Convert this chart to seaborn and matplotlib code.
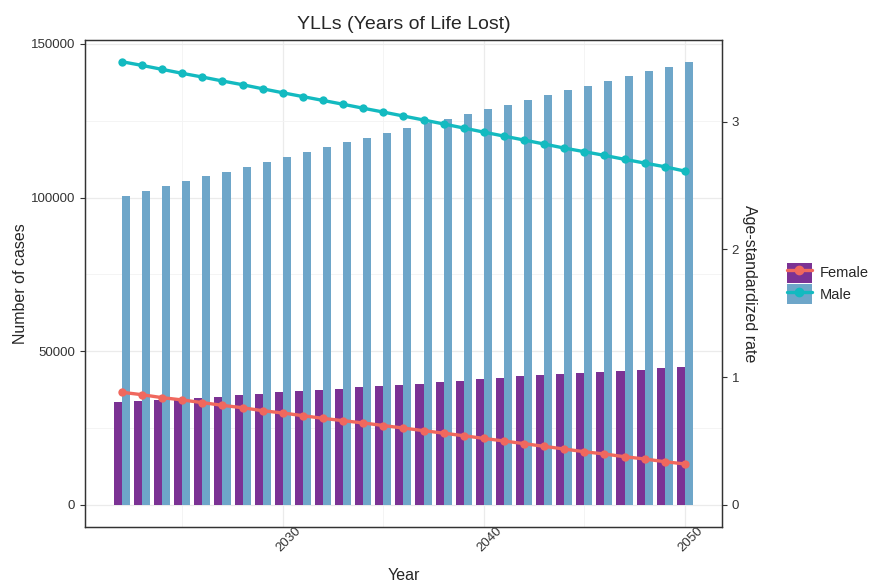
# plot.py
# YLLs projection: cases (bars, left axis) + age-standardized rate (lines, right axis)

import pandas as pd
import seaborn as sns
import matplotlib.pyplot as plt
from matplotlib.patches import Patch
from matplotlib.lines import Line2D
from matplotlib.legend_handler import HandlerTuple
from matplotlib.ticker import MultipleLocator
from matplotlib.transforms import ScaledTranslation

# Data
years = list(range(2022, 2051))

female_cases = [33500, 33830, 34160, 34480, 34810, 35240, 35790, 36220, 36650, 36980,
                37400, 37840, 38280, 38610, 39000, 39450, 39900, 40450, 40990, 41420,
                41970, 42290, 42720, 43040, 43370, 43490, 43920, 44470, 44800]
male_cases = [100650, 102150, 103780, 105400, 106930, 108430, 110060, 111480, 113110, 114850,
              116400, 118000, 119500, 121000, 122700, 124300, 125700, 127300, 128800, 130120,
              131750, 133280, 134900, 136310, 138040, 139560, 141080, 142590, 144210]

female_rate = [0.882, 0.863, 0.840, 0.822, 0.801, 0.780, 0.761, 0.738, 0.720, 0.699,
               0.678, 0.660, 0.642, 0.622, 0.602, 0.582, 0.562, 0.542, 0.521, 0.501,
               0.480, 0.459, 0.438, 0.417, 0.399, 0.378, 0.360, 0.339, 0.321]
male_rate = [3.469, 3.440, 3.409, 3.378, 3.349, 3.318, 3.289, 3.257, 3.226, 3.196,
             3.166, 3.136, 3.105, 3.075, 3.044, 3.013, 2.982, 2.950, 2.918, 2.887,
             2.856, 2.825, 2.793, 2.765, 2.736, 2.705, 2.676, 2.647, 2.613]

sexes = ["Female", "Male"]
bar_colors = {"Female": "#7B3294", "Male": "#6EA6C9"}
line_colors = {"Female": "#F0685E", "Male": "#13BAC0"}

# Build long tables for seaborn
cases_df = pd.DataFrame({
    "year": years * 2,
    "cases": female_cases + male_cases,
    "sex": ["Female"] * len(years) + ["Male"] * len(years),
})
rate_df = pd.DataFrame({
    "year": years * 2,
    "rate": female_rate + male_rate,
    "sex": ["Female"] * len(years) + ["Male"] * len(years),
})

sns.set_style("white")
plt.rcParams["font.family"] = ["Liberation Sans", "DejaVu Sans"]

fig = plt.figure(figsize=(8.76, 5.87), dpi=100)
ax = fig.add_axes([0.097, 0.102, 0.727, 0.830])

# Bars for number of cases
sns.barplot(data=cases_df, x="year", y="cases", hue="sex", hue_order=sexes,
            palette=bar_colors, native_scale=True, width=0.8, saturation=1,
            linewidth=0, legend=False, ax=ax)

# Secondary axis for the rate, scaled like ggplot's sec_axis
scale = max(male_cases) / max(male_rate)
ymin, ymax = -7200, 151300
ax.set_ylim(ymin, ymax)
ax.set_xlim(2020.16, 2051.84)

ax2 = ax.twinx()
ax2.set_ylim(ymin / scale, ymax / scale)
sns.lineplot(data=rate_df, x="year", y="rate", hue="sex", hue_order=sexes,
             palette=line_colors, marker="o", markersize=6, markeredgewidth=0,
             linewidth=2.4, legend=False, ax=ax2)

# Grid like theme_bw
ax.set_axisbelow(True)
ax.xaxis.set_major_locator(MultipleLocator(10))
ax.xaxis.set_minor_locator(MultipleLocator(5))
ax.yaxis.set_major_locator(MultipleLocator(50000))
ax.yaxis.set_minor_locator(MultipleLocator(25000))
ax.grid(which="major", color="#EBEBEB", linewidth=0.9)
ax.grid(which="minor", color="#F3F3F3", linewidth=0.6)
ax.tick_params(which="minor", length=0)
ax2.yaxis.set_major_locator(MultipleLocator(1))

for a in (ax, ax2):
    for s in a.spines.values():
        s.set_color("#333333")
        s.set_linewidth(0.9)
    a.tick_params(which="major", length=3.5, width=0.8, color="#333333",
                  labelsize=9.5, labelcolor="#333333")

ax.set_xticks([2030, 2040, 2050])
ax.tick_params(axis="x", pad=-2)
# nudge the rotated year labels up/right like the ggplot output
shift = ScaledTranslation(4 / 72, 3 / 72, fig.dpi_scale_trans)
for lbl in ax.get_xticklabels():
    lbl.set_rotation(45)
    lbl.set_ha("center")
    lbl.set_va("top")
    lbl.set_transform(lbl.get_transform() + shift)
ax.set_yticklabels([f"{int(v)}" for v in ax.get_yticks()])

ax.set_xlabel("Year", fontsize=11.5, labelpad=10)
ax.set_ylabel("Number of cases", fontsize=11.5, labelpad=2)
ax2.set_ylabel("Age-standardized rate", fontsize=11.5, rotation=270, labelpad=13)
ax.set_title("YLLs (Years of Life Lost)", fontsize=14, pad=8)

# Legend: bar colour square with line + dot across
handles = [(Patch(facecolor=bar_colors[s], edgecolor="none"),
            Line2D([], [], color=line_colors[s], marker="o", markersize=6, linewidth=2.4))
           for s in sexes]
fig.legend(handles, sexes, handler_map={tuple: HandlerTuple(ndivide=1, pad=0)},
           loc="center left", bbox_to_anchor=(0.883, 0.517), frameon=False,
           fontsize=10.5, handlelength=1.75, handleheight=1.75, handletextpad=0.5,
           labelspacing=0.1, borderpad=0.4)

fig.savefig("out.png", dpi=100)
